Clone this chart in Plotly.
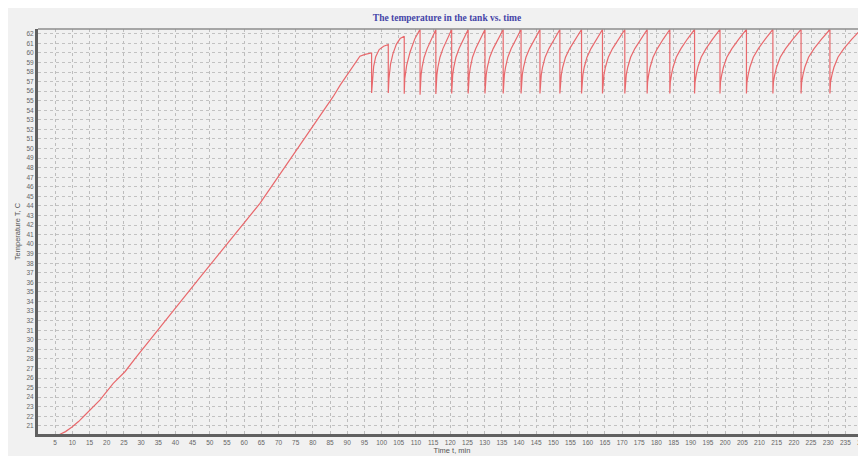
import plotly.graph_objects as go

# ---- data ----
ramp_time = [6.3, 8.0, 9.8, 11.8, 13.7, 15.8, 18.0, 21.9, 25.3, 28.7, 32.6, 47.1, 64.6,
             75.3, 85.9, 87.9, 92.8, 93.7, 95.2, 97.1]
ramp_temp = [20.1, 20.4, 20.85, 21.45, 22.14, 22.9, 23.7, 25.45, 26.66, 28.23, 30.0, 36.5, 44.27,
             49.85, 55.42, 56.6, 59.26, 59.65, 59.85, 59.99]

# first, incomplete heating cycles
early_time = [97.1, 97.3, 97.7, 98.3, 99.3, 100.6, 101.95,
              101.95, 102.15, 102.6, 103.3, 104.3, 105.4, 106.6,
              106.6, 106.75, 107.3, 108.3, 109.7, 111.2]
early_temp = [55.81, 57.2, 58.6, 59.6, 60.35, 60.7, 60.88,
              55.81, 57.3, 58.8, 59.9, 60.9, 61.5, 61.75,
              55.74, 57.3, 58.7, 60.1, 61.49, 62.47]

# regular switching cycles (drop to ~55.75, reheat to ~62.45)
cycle_time = [
    111.2, 111.29, 111.5, 111.8, 112.4, 113.27, 114.47, 115.8,
    115.8, 115.89, 116.1, 116.4, 117.0, 117.87, 119.07, 120.4,
    120.4, 120.5, 120.71, 121.02, 121.65, 122.56, 123.81, 125.2,
    125.2, 125.3, 125.52, 125.84, 126.47, 127.41, 128.68, 130.1,
    130.1, 130.21, 130.45, 130.79, 131.48, 132.49, 133.86, 135.4,
    135.4, 135.5, 135.74, 136.08, 136.75, 137.74, 139.09, 140.6,
    140.6, 140.71, 140.96, 141.32, 142.03, 143.08, 144.51, 146.1,
    146.1, 146.22, 146.48, 146.85, 147.61, 148.71, 150.22, 151.9,
    151.9, 152.03, 152.31, 152.72, 153.54, 154.74, 156.37, 158.2,
    158.2, 158.32, 158.6, 158.99, 159.79, 160.95, 162.53, 164.3,
    164.3, 164.43, 164.72, 165.15, 165.99, 167.23, 168.92, 170.8,
    170.8, 170.93, 171.22, 171.65, 172.49, 173.73, 175.42, 177.3,
    177.3, 177.43, 177.73, 178.16, 179.02, 180.27, 181.99, 183.9,
    183.9, 184.04, 184.37, 184.84, 185.77, 187.14, 189.01, 191.1,
    191.1, 191.25, 191.58, 192.06, 193.02, 194.43, 196.35, 198.5,
    198.5, 198.65, 199.0, 199.5, 200.5, 201.97, 203.97, 206.2,
    206.2, 206.35, 206.7, 207.2, 208.2, 209.67, 211.67, 213.9,
    213.9, 214.06, 214.43, 214.97, 216.03, 217.59, 219.72, 222.1,
    222.1, 222.27, 222.65, 223.19, 224.28, 225.88, 228.06, 230.5,
    230.5, 230.68, 231.09, 231.67, 232.84, 234.55, 236.89, 239.5,
    239.5, 239.68, 240.09, 240.67, 241.84,
]
cycle_temp = [
    55.63, 56.95, 57.7, 58.5, 59.55, 60.45, 61.45, 62.45,
    55.7, 56.95, 57.7, 58.5, 59.55, 60.45, 61.45, 62.45,
    55.75, 56.95, 57.7, 58.5, 59.55, 60.45, 61.45, 62.45,
    55.75, 56.95, 57.7, 58.5, 59.55, 60.45, 61.45, 62.45,
    55.75, 56.95, 57.7, 58.5, 59.55, 60.45, 61.45, 62.45,
    55.75, 56.95, 57.7, 58.5, 59.55, 60.45, 61.45, 62.45,
    55.75, 56.95, 57.7, 58.5, 59.55, 60.45, 61.45, 62.45,
    55.75, 56.95, 57.7, 58.5, 59.55, 60.45, 61.45, 62.45,
    55.75, 56.95, 57.7, 58.5, 59.55, 60.45, 61.45, 62.45,
    55.75, 56.95, 57.7, 58.5, 59.55, 60.45, 61.45, 62.45,
    55.75, 56.95, 57.7, 58.5, 59.55, 60.45, 61.45, 62.45,
    55.75, 56.95, 57.7, 58.5, 59.55, 60.45, 61.45, 62.45,
    55.75, 56.95, 57.7, 58.5, 59.55, 60.45, 61.45, 62.45,
    55.75, 56.95, 57.7, 58.5, 59.55, 60.45, 61.45, 62.45,
    55.75, 56.95, 57.7, 58.5, 59.55, 60.45, 61.45, 62.45,
    55.75, 56.95, 57.7, 58.5, 59.55, 60.45, 61.45, 62.45,
    55.75, 56.95, 57.7, 58.5, 59.55, 60.45, 61.45, 62.45,
    55.75, 56.95, 57.7, 58.5, 59.55, 60.45, 61.45, 62.45,
    55.75, 56.95, 57.7, 58.5, 59.55, 60.45, 61.45, 62.45,
    55.75, 56.95, 57.7, 58.5, 59.55, 60.45, 61.45, 62.45,
    55.75, 56.95, 57.7, 58.5, 59.55,
]

x_ticks = list(range(5, 245, 5))
y_ticks = list(range(21, 63))

time_all = ramp_time + early_time + cycle_time
temp_all = ramp_temp + early_temp + cycle_temp

fig = go.Figure()
fig.add_trace(go.Scatter(x=time_all, y=temp_all, mode="lines",
                         line=dict(color="#e8686c", width=1.2),
                         showlegend=False, hoverinfo="skip"))

bg = "#f1f1f1"
fig.update_layout(
    width=866, height=456,
    margin=dict(l=30, r=8, t=21, b=30, pad=0, autoexpand=False),
    paper_bgcolor=bg, plot_bgcolor=bg,
    title=dict(text="<b>The temperature in the tank vs. time</b>",
               x=439 / 866, xref="container", xanchor="center",
               y=1 - 9.5 / 456, yref="container", yanchor="middle",
               font=dict(family="Liberation Serif", size=9.5, color="#4545a8")),
    font=dict(family="Liberation Sans", size=7, color="#666666"),
    shapes=[
        dict(type="line", xref="paper", yref="paper",
             x0=0, x1=1.2, y0=1, y1=1,
             line=dict(color="#8c8c8c", width=1.5)),
    ],
)
fig.update_xaxes(
    range=[0, 241], tickvals=x_ticks, ticktext=[str(v) for v in x_ticks],
    showgrid=True, gridcolor="#bdbdbd", gridwidth=1, griddash="dot",
    showline=True, linecolor="#606060", linewidth=2.5,
    zeroline=False, ticks="", tickfont=dict(size=6.5, color="#666666"),
    automargin=False, ticklabeloverflow="allow",
    title=dict(text="Time t, min", font=dict(size=7.5, color="#555555"), standoff=0),
)
fig.update_yaxes(
    range=[20.15, 62.5], tickvals=y_ticks, ticktext=[str(v) for v in y_ticks],
    showgrid=True, gridcolor="#c2c2c2", gridwidth=1, griddash="dot",
    showline=True, linecolor="#606060", linewidth=3,
    zeroline=False, ticks="", tickfont=dict(size=6.5, color="#666666"),
    automargin=False,
    title=dict(text="Temperature T, C", font=dict(size=7.5, color="#555555"), standoff=5),
)

fig.write_html("out.html")
